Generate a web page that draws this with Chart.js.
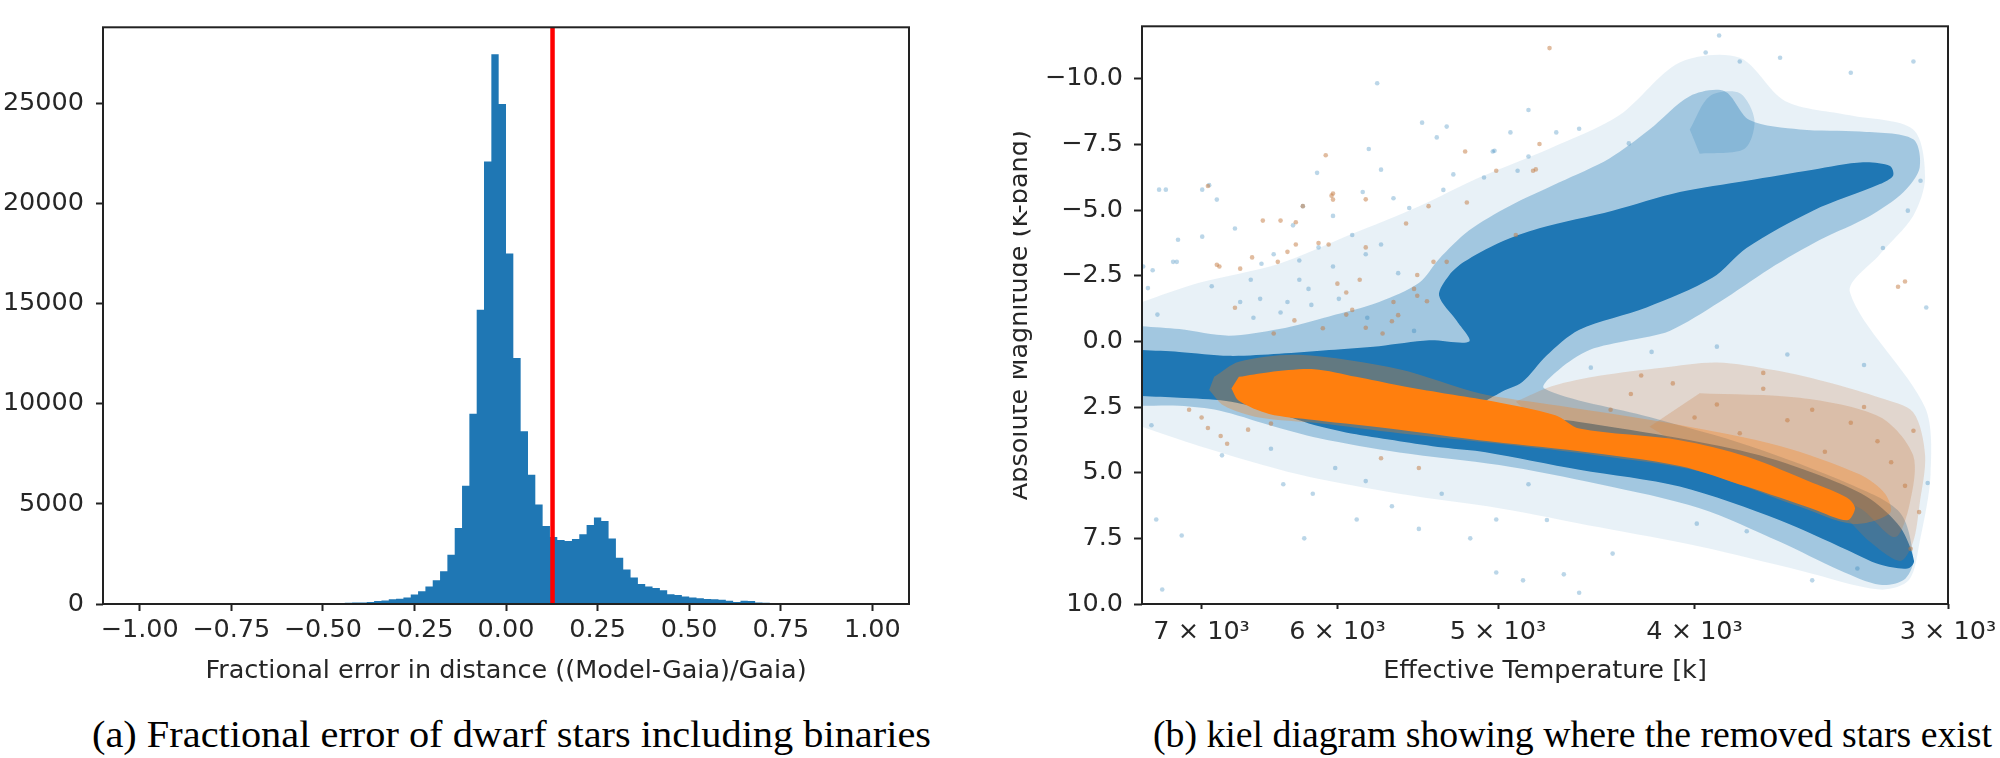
<!DOCTYPE html>
<html>
<head>
<meta charset="utf-8">
<script src="https://cdn.jsdelivr.net/npm/chart.js@4.4.1/dist/chart.umd.min.js"></script>
<style>
  body { margin: 0; background: #fff; width: 2000px; height: 758px; overflow: hidden; position: relative; }
  canvas { position: absolute; top: 0; }
  #hist { left: 0; }
  #kiel { left: 1013px; }
  .caption { position: absolute; top: 712px; font-family: "Liberation Serif", serif; font-size: 38px; line-height: 44px; color: #000; white-space: nowrap; transform-origin: left center; }
</style>
</head>
<body>
<canvas id="hist" width="960" height="700" style="width:960px;height:700px"></canvas>
<canvas id="kiel" width="987" height="700" style="width:987px;height:700px"></canvas>
<div class="caption" style="left:92px">(a) Fractional error of dwarf stars including binaries</div>
<div class="caption" style="left:1153px">(b) kiel diagram showing where the removed stars exist</div>
<script>
// ---- panel (a): histogram of fractional distance error ----
const binStart = -1.0
const binWidth = 0.02
const histCounts = [
  0, 0, 0, 0, 0, 0, 0, 0, 0, 0,
  0, 0, 0, 0, 0, 0, 0, 0, 0, 0,
  0, 0, 0, 0, 0, 0, 0, 0, 0, 60,
  70, 80, 100, 150, 170, 240, 260, 330, 480, 640,
  875, 1190, 1640, 2465, 3800, 5900, 9500, 14700, 22100, 27450,
  24970, 17500, 12290, 8630, 6450, 4970, 3900, 3350, 3200, 3150,
  3240, 3480, 3940, 4320, 4150, 3270, 2305, 1717, 1320, 1000,
  875, 795, 684, 493, 445, 380, 320, 286, 254, 240,
  207, 160, 95, 160, 150, 70, 60, 55, 50, 50,
  45, 45, 40, 40, 35, 35, 30, 30, 30, 40
]
const cutValue = 0.127
const histXTicks = [-1, -0.75, -0.5, -0.25, 0, 0.25, 0.5, 0.75, 1]
const histYTicks = [0, 5000, 10000, 15000, 20000, 25000]

// ---- panel (b): kiel diagram, outlines of the dense regions as [Teff, M_K] ----
const teffTicks = [3000, 4000, 5000, 6000, 7000]
const magTicks = [-10, -7.5, -5, -2.5, 0, 2.5, 5, 7.5, 10]

const blueFaint = [
  [7490, -1.50], [7020, -2.23], [6410, -2.96], [5920, -4.05], [5468, -5.15], [5108, -6.24],
  [4717, -7.34], [4357, -8.61], [4068, -10.62], [3800, -10.80], [3610, -9.16], [3353, -8.61],
  [3121, -8.07], [3079, -6.24], [3121, -4.78], [3241, -3.32], [3353, -1.86], [3079, 2.52],
  [3060, 5.07], [3098, 7.63], [3136, 9.09], [3241, 9.45], [3549, 8.72], [3977, 7.81],
  [4456, 7.08], [4993, 6.35], [5593, 5.80], [6266, 5.07], [7020, 3.98], [7490, 3.25]
]
const blueHalo = [
  [7490, -0.58], [7180, -0.47], [6786, -0.22], [6410, -0.47], [6057, -0.95], [5722, -1.50],
  [5468, -2.23], [5346, -3.14], [5166, -4.23], [4937, -5.15], [4663, -6.06], [4406, -6.97],
  [4210, -8.07], [4022, -9.34], [3866, -9.53], [3758, -8.43], [3549, -8.07], [3315, -7.99],
  [3121, -7.70], [3098, -6.61], [3155, -5.69], [3278, -4.78], [3469, -3.87], [3673, -2.77],
  [3888, -1.50], [4115, -0.40], [4307, -0.04], [4507, 0.33], [4663, 1.06], [4744, 1.79],
  [4210, 2.88], [3758, 3.98], [3353, 5.44], [3167, 6.53], [3121, 8.36], [3155, 9.09],
  [3241, 9.27], [3391, 8.72], [3631, 7.63], [3977, 6.35], [4456, 5.44], [4993, 4.71],
  [5593, 4.23], [6126, 3.69], [6484, 3.18], [6863, 2.63], [7180, 2.45], [7490, 2.45]
]
const blueClump = [
  [4022, -8.07], [3932, -9.34], [3800, -9.45], [3737, -8.43], [3779, -7.34], [3977, -7.15]
]
const blueDense = [
  [7490, 0.33], [7180, 0.40], [6786, 0.55], [6410, 0.47], [6057, 0.33], [5722, 0.18],
  [5406, -0.04], [5166, 0.00], [5238, -0.77], [5346, -1.75], [5285, -2.52], [5196, -3.03],
  [4993, -3.76], [4771, -4.31], [4390, -4.98], [4068, -5.69], [3770, -6.12], [3497, -6.54],
  [3304, -6.82], [3204, -6.68], [3193, -6.31], [3241, -5.99], [3497, -4.98], [3771, -3.56],
  [3920, -2.42], [4224, -1.29], [4559, -0.44], [4733, 0.55], [4864, 1.55], [4993, 1.97],
  [5108, 2.52], [4559, 3.07], [4068, 3.69], [3715, 4.34], [3429, 5.26], [3278, 5.99],
  [3167, 7.08], [3118, 8.36], [3141, 8.65], [3241, 8.50], [3364, 7.94], [3631, 6.81],
  [4068, 5.53], [4559, 4.89], [5071, 4.22], [5321, 4.04], [5593, 3.80], [5874, 3.54],
  [6160, 3.18], [6484, 2.63], [6808, 2.27], [7180, 2.15], [7490, 2.08]
]
const brownSparse = [
  [4900, 2.30], [4700, 1.70], [4450, 1.30], [4150, 1.00], [3900, 0.80], [3650, 1.10],
  [3420, 1.60], [3241, 2.15], [3121, 2.70], [3079, 4.34], [3098, 6.17], [3121, 7.63],
  [3167, 8.36], [3278, 7.63], [3391, 6.53], [3549, 5.80], [3800, 5.07], [4163, 4.34],
  [4559, 3.61], [4800, 2.90]
]
const brownInner = [
  [3977, 1.97], [3549, 2.15], [3241, 2.88], [3121, 4.34], [3133, 6.17], [3186, 7.45],
  [3315, 6.35], [3631, 5.07], [3977, 4.34], [4210, 3.25]
]
const orangeHalo = [
  [6901, 1.35], [6710, 0.77], [6266, 0.51], [5593, 1.06], [5108, 1.97], [4663, 2.45],
  [4068, 3.18], [3631, 3.98], [3315, 5.07], [3222, 5.80], [3204, 6.53], [3340, 6.95],
  [3549, 6.30], [3977, 4.95], [4456, 4.35], [4993, 3.90], [5593, 3.50], [6126, 3.12],
  [6558, 2.90], [6824, 2.45], [6940, 1.85]
]
const orangeDense = [
  [6710, 1.35], [6484, 1.17], [6160, 1.06], [5874, 1.35], [5593, 1.68], [5321, 1.97],
  [5071, 2.23], [4685, 2.81], [4559, 3.32], [4068, 3.76], [3771, 4.38], [3497, 5.39],
  [3364, 5.95], [3334, 6.35], [3364, 6.81], [3497, 6.38], [3771, 5.53], [4068, 4.74],
  [4559, 4.18], [5108, 3.76], [5593, 3.36], [6160, 2.99], [6484, 2.76], [6710, 2.26],
  [6767, 1.79]
]
// scattered single stars outside the dense regions
const blueDots = [
  [7346, -5.78], [7290, -5.78], [6995, -5.78], [6940, -5.95], [6880, -5.40], [7190, -3.87],
  [6995, -3.99], [6740, -4.30], [7200, -3.03], [7480, -2.85], [7400, -2.71], [6920, -2.10],
  [6620, -2.35], [6540, -2.96], [6450, -3.32], [6310, -4.42], [6240, -5.15], [6140, -6.42],
  [6030, -4.78], [5830, -5.69], [5790, -7.33], [5735, -9.83], [5710, -6.54], [5450, -8.33],
  [5360, -7.77], [5300, -8.18], [5320, -5.77], [5030, -7.23], [4930, -7.96], [4680, -7.96],
  [5630, -5.45], [5530, -5.08], [5260, -6.36], [5080, -6.24], [4890, -6.50], [4830, -7.04],
  [5900, -4.05], [6130, -3.58], [6265, -3.08], [6030, -2.85], [5810, -3.32], [5710, -3.69],
  [6700, -1.50], [6550, -1.62], [6350, -1.50], [6180, -1.39], [5990, -1.62], [6265, -2.35],
  [7440, -2.03], [7360, -1.02], [7230, -3.03], [6600, -0.90], [6400, -1.10], [6200, -2.00],
  [5800, -0.90], [5600, -2.60], [5500, -0.40],
  [7410, 3.19], [6840, 4.34], [6470, 4.09], [6380, 5.44], [6170, 5.80], [6015, 4.82],
  [5810, 5.32], [5640, 6.28], [5330, 5.80], [5010, 6.78], [4830, 5.44], [7370, 6.78],
  [7160, 7.39], [6230, 7.50], [5870, 6.78], [5470, 7.14], [5160, 7.50], [7320, 9.45],
  [4640, 8.87], [5010, 8.80], [4730, 6.80], [4560, 9.57], [4860, 9.10], [4390, 8.08],
  [3990, 6.94], [3770, 7.23], [3500, 9.10], [3325, 8.65], [3070, 5.39], [3075, -1.29],
  [3120, -10.66], [3890, -11.65], [5020, -7.26], [3230, -3.56], [3140, -4.98], [3095, -6.12],
  [3350, -10.23], [3630, -10.80], [4310, -7.54], [4560, -8.10], [4830, -8.81], [3950, -11.00],
  [3800, -10.66], [4500, 1.00], [4200, 0.40], [3900, 0.20], [3600, 0.50], [3300, 0.90]
]
const orangeDots = [
  [6080, -7.09], [4716, -11.17], [6030, -5.63], [6030, -5.40], [5810, -5.41], [6240, -5.15],
  [6400, -4.60], [6530, -4.60], [6130, -3.75], [6060, -3.69], [6290, -3.69], [6610, -3.20],
  [6700, -2.77], [6860, -2.85], [6420, -3.03], [5190, -7.23], [5010, -6.50], [4770, -7.52],
  [4805, -6.50], [5410, -5.15], [5550, -4.49], [5380, -3.03], [5300, -3.03], [5810, -3.58],
  [5850, -2.35], [5940, -1.86], [5630, -1.50], [5480, -1.74], [6950, -5.92], [6880, -2.92],
  [6740, -1.28], [6040, -5.55], [6290, -4.54], [6350, -3.41], [5940, -1.02], [5810, -0.52],
  [5640, -0.77], [5480, -2.53], [5420, -1.53], [5180, -5.29], [4900, -4.05], [4790, -6.55],
  [6300, -0.80], [6100, -0.50], [5900, -1.20], [5700, -0.30], [5600, -1.00], [6450, -0.30],
  [6000, -2.20], [5500, -2.00],
  [5710, 4.45], [5470, 4.82], [6640, 3.36], [6470, 3.13], [7000, 2.90], [6950, 3.30],
  [6850, 3.60], [7100, 2.60], [6800, 3.90], [3175, -2.08], [3150, -2.28],
  [4300, 2.00], [4100, 1.60], [3900, 2.40], [3700, 1.80], [3500, 2.60], [3350, 3.10],
  [3250, 3.80], [3200, 4.60], [3150, 5.50], [3600, 3.00], [4000, 2.90], [4400, 2.60],
  [3800, 3.50], [3450, 4.20], [3300, 2.50], [3120, 3.40], [3100, 6.50], [3130, 7.90],
  [3700, 1.20], [4250, 1.30]
]

const tickFont = { family: 'DejaVu Sans', size: 25.5 }
const textColor = '#262626'
const minus = v => String(v).replace('-', '\u2212')

// matplotlib style box around the plotting area
const frame = {
  id: 'frame',
  afterDraw(chart) {
    const { ctx, chartArea: a } = chart
    ctx.save()
    ctx.strokeStyle = '#222'
    ctx.lineWidth = 2
    ctx.strokeRect(a.left, a.top, a.right - a.left, a.bottom - a.top)
    ctx.restore()
  }
}

function tickGrid(len) {
  return { display: true, drawOnChartArea: false, drawTicks: true, tickLength: len, tickWidth: 2, tickColor: '#222' }
}

// histogram as a filled step line, one point per bin edge
const histPoints = histCounts.map((c, i) => ({ x: binStart + i * binWidth, y: c }))
histPoints.push({ x: binStart + histCounts.length * binWidth, y: histCounts[histCounts.length - 1] })
const histMax = 28800

new Chart(document.getElementById('hist'), {
  type: 'scatter',
  data: {
    datasets: [
      {
        type: 'line',
        data: [{ x: cutValue, y: 0 }, { x: cutValue, y: histMax }],
        borderColor: '#ff0000',
        borderWidth: 4.5,
        pointRadius: 0,
        order: 0
      },
      {
        type: 'line',
        data: histPoints,
        stepped: 'after',
        fill: 'origin',
        backgroundColor: '#1f77b4',
        borderWidth: 0,
        pointRadius: 0,
        order: 1
      }
    ]
  },
  options: {
    responsive: false,
    animation: false,
    layout: { padding: { top: 3, right: 51, left: 0, bottom: 0 } },
    plugins: { legend: { display: false }, tooltip: { enabled: false } },
    scales: {
      x: {
        type: 'linear', min: -1.1, max: 1.1,
        afterBuildTicks: s => { s.ticks = histXTicks.map(v => ({ value: v })) },
        afterFit: s => { s.height = 96 },
        ticks: { font: tickFont, color: textColor, padding: 4, maxRotation: 0, callback: v => minus(v.toFixed(2)) },
        grid: tickGrid(7),
        border: { display: false },
        title: { display: true, text: 'Fractional error in distance ((Model-Gaia)/Gaia)', font: tickFont, color: textColor, padding: { top: 0, bottom: 13 } }
      },
      y: {
        type: 'linear', min: 0, max: histMax,
        afterBuildTicks: s => { s.ticks = histYTicks.map(v => ({ value: v })) },
        afterFit: s => { s.width = 103 },
        ticks: { font: tickFont, color: textColor, padding: 12, callback: v => String(v) },
        grid: tickGrid(7),
        border: { display: false }
      }
    }
  },
  plugins: [frame]
})

// each region outline becomes a closed filled line
function region(points, color, order) {
  return {
    type: 'line',
    data: points.map(p => ({ x: p[0], y: p[1] })),
    fill: 'shape',
    backgroundColor: color,
    borderWidth: 0,
    pointRadius: 0,
    tension: 0.3,
    order: order
  }
}
function dots(points, color, order) {
  return {
    type: 'scatter',
    data: points.map(p => ({ x: p[0], y: p[1] })),
    backgroundColor: color,
    borderWidth: 0,
    pointRadius: 2.3,
    order: order
  }
}

new Chart(document.getElementById('kiel'), {
  type: 'scatter',
  data: {
    datasets: [
      dots(orangeDots, 'rgba(196,122,64,0.5)', 1),
      region(orangeDense, '#ff7f0e', 2),
      region(orangeHalo, 'rgba(255,127,14,0.3)', 3),
      region(brownInner, 'rgba(200,120,60,0.25)', 4),
      region(brownSparse, 'rgba(200,120,60,0.22)', 5),
      dots(blueDots, 'rgba(31,119,180,0.3)', 6),
      region(blueDense, '#1f77b4', 7),
      region(blueClump, 'rgba(31,119,180,0.2)', 8),
      region(blueHalo, 'rgba(31,119,180,0.35)', 9),
      region(blueFaint, 'rgba(31,119,180,0.1)', 10)
    ]
  },
  options: {
    responsive: false,
    animation: false,
    layout: { padding: { top: 3, right: 52, left: 0, bottom: 0 } },
    plugins: { legend: { display: false }, tooltip: { enabled: false } },
    scales: {
      x: {
        type: 'logarithmic', reverse: true, min: 3000, max: 7490,
        afterBuildTicks: s => { s.ticks = teffTicks.map(v => ({ value: v })) },
        afterFit: s => { s.height = 96 },
        ticks: { font: tickFont, color: textColor, padding: 8, maxRotation: 0, autoSkip: false, callback: v => (v / 1000) + ' \u00d7 10\u00b3' },
        grid: tickGrid(5),
        border: { display: false },
        title: { display: true, text: 'Effective Temperature [k]', font: tickFont, color: textColor, padding: { top: 0, bottom: 13 } }
      },
      y: {
        type: 'linear', reverse: true, min: -12, max: 10,
        afterBuildTicks: s => { s.ticks = magTicks.map(v => ({ value: v })) },
        afterFit: s => { s.width = 129 },
        ticks: { font: tickFont, color: textColor, padding: 11, callback: v => minus(v.toFixed(1)) },
        grid: tickGrid(8),
        border: { display: false },
        title: { display: true, text: 'Absolute Magnitude (K-band)', font: tickFont, color: textColor, padding: { top: -8, bottom: 0 } }
      }
    }
  },
  plugins: [frame]
})

// stretch each caption to the printed caption width
document.querySelectorAll('.caption').forEach(el => {
  const w = el.getBoundingClientRect().width
  el.style.transform = 'scaleX(' + (839 / w) + ')'
})
</script>
</body>
</html>
